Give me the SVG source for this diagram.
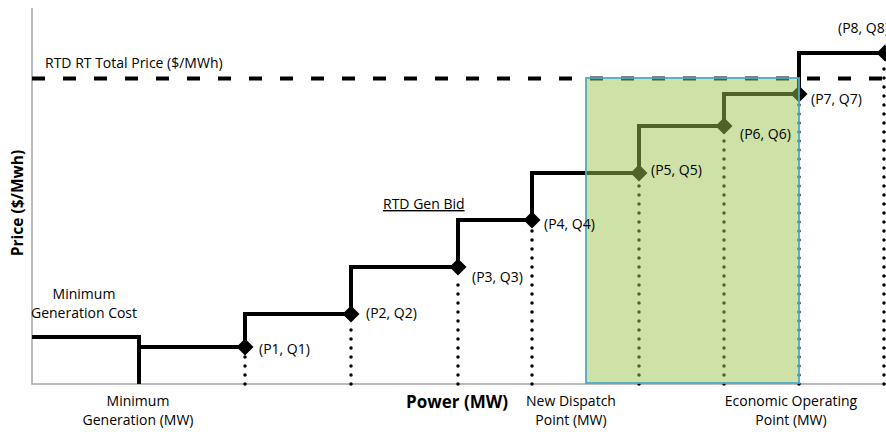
<svg xmlns="http://www.w3.org/2000/svg" width="886" height="432" viewBox="0 0 886 432">
<style>
text{font-family:"Open Sans","Noto Sans","Liberation Sans",sans-serif;font-size:14px;fill:#000}
.b{font-weight:bold}
.axis{stroke:#a6a6a6;stroke-width:1.5;fill:none}
.step{stroke:#000;stroke-width:4;fill:none}
.dot{stroke:#000;stroke-width:3.5;stroke-linecap:round;stroke-dasharray:0 9;fill:none}
</style>
<defs>
<path id="d" d="M0,-8.5 L8.5,0 L0,8.5 L-8.5,0 Z"/>
</defs>
<g id="axes">
<path class="axis" d="M32,8 V384 H886"/>
</g>
<g id="price-line">
<path d="M32,78.5 H886" stroke="#000" stroke-width="4" stroke-dasharray="13 18" fill="none"/>
<text x="45" y="68">RTD RT Total Price ($/MWh)</text>
</g>
<g id="connectors">
<path class="step" d="M32,337 H139 V384 M139,347 H245 V314 H351 V267 H458 V220 H532 V173 H639 V126 H724 V94 H799 V53 H886"/>
<path class="dot" d="M245,384 V356 M351,384 V323 M458,384 V276 M532,384 V229 M639,384 V182 M724,384 V135 M799,384 V103 M884,384 V62"/>
</g>
<g id="points">
<use href="#d" x="245" y="347"/>
<use href="#d" x="351" y="314"/>
<use href="#d" x="458" y="267"/>
<use href="#d" x="532" y="220"/>
<use href="#d" x="639" y="173"/>
<use href="#d" x="724" y="126"/>
<use href="#d" x="799" y="94"/>
<use href="#d" x="885" y="53"/>
</g>
<g id="dispatch-range">
<rect x="586" y="78" width="213" height="305" fill="#9ec450" fill-opacity="0.5" stroke="none"/>
<rect x="586" y="78" width="213" height="305" fill="none" stroke="#4bacc6" stroke-width="1.8"/>
</g>
<g id="labels">
<text x="259" y="354">(P1, Q1)</text>
<text x="366" y="318">(P2, Q2)</text>
<text x="472" y="282">(P3, Q3)</text>
<text x="544" y="229">(P4, Q4)</text>
<text x="651" y="175">(P5, Q5)</text>
<text x="740" y="139">(P6, Q6)</text>
<text x="811" y="104">(P7, Q7)</text>
<text x="838" y="33">(P8, Q8)</text>
<text x="383" y="209" text-decoration="underline">RTD Gen Bid</text>
</g>
<g id="min-cost">
<text x="84" y="299" text-anchor="middle">Minimum</text>
<text x="84" y="318" text-anchor="middle">Generation Cost</text>
</g>
<g id="axis-labels">
<text x="138" y="406" text-anchor="middle">Minimum</text>
<text x="138" y="425" text-anchor="middle">Generation (MW)</text>
<text x="571" y="406" text-anchor="middle">New Dispatch</text>
<text x="571" y="425" text-anchor="middle">Point (MW)</text>
<text x="791" y="406" text-anchor="middle">Economic Operating</text>
<text x="791" y="425" text-anchor="middle">Point (MW)</text>
<text class="b" x="457" y="408" text-anchor="middle" style="font-size:17px">Power (MW)</text>
<text class="b" transform="translate(23,203) rotate(-90)" text-anchor="middle" style="font-size:15.5px">Price ($/Mwh)</text>
</g>
</svg>
